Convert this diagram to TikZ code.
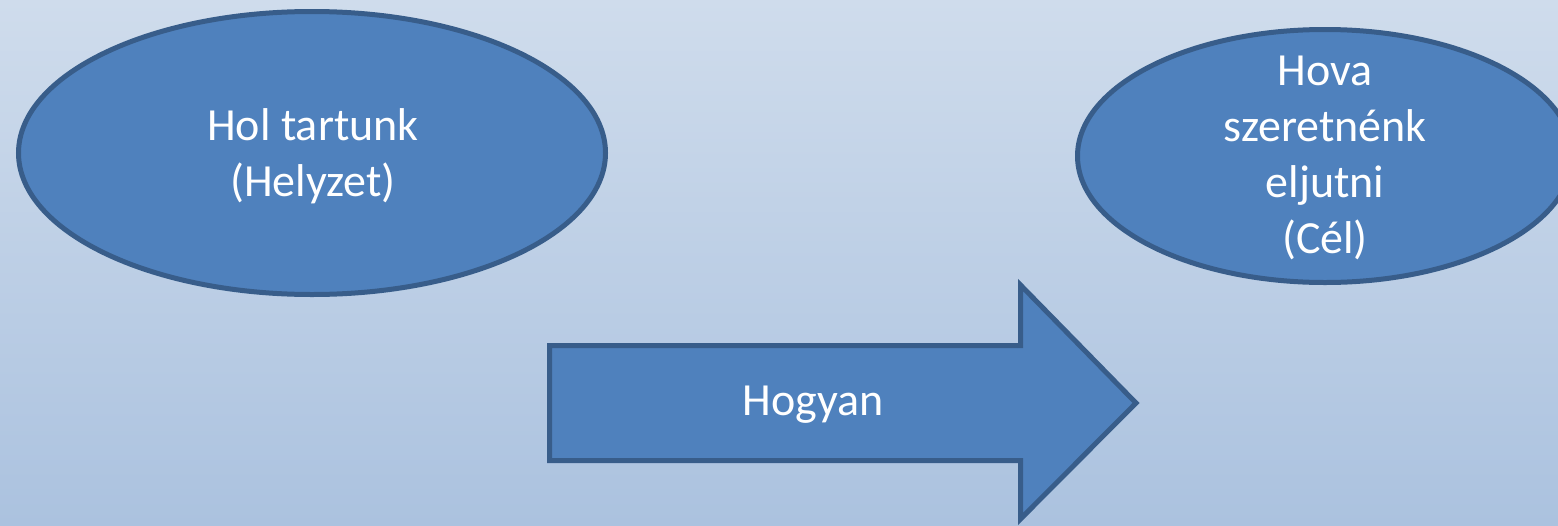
\documentclass[tikz,border=0pt]{standalone}
\usepackage{fontspec}
\setmainfont{Carlito}
\usetikzlibrary{shapes.geometric}
\definecolor{bgtop}{HTML}{CFDCEC}
\definecolor{bgbot}{HTML}{ABC2DF}
\definecolor{shapefill}{HTML}{4F81BD}
\definecolor{shapeline}{HTML}{385D8A}
\tikzset{
  blob/.style={ellipse, draw=shapeline, fill=shapefill, line width=2.5pt, inner sep=0pt},
  shapestyle/.style={draw=shapeline, fill=shapefill, line width=2.5pt, line join=miter},
  txt/.style={text=white, align=center, inner sep=0pt, font=\fontsize{23}{28}\selectfont}
}
\begin{document}
\begin{tikzpicture}[x=0.5pt, y=-0.5pt]
\useasboundingbox (0,0) rectangle (1558,525);
\shade[top color=bgtop, bottom color=bgbot] (0,0) rectangle (1558,525);
\clip (0,0) rectangle (1558,525);
% left ellipse
\node[blob, minimum width=293.5pt, minimum height=141.5pt] (here) at (312,153) {};
\node[txt] (heretext) at (313,156) {Hol tartunk\\(Helyzet)};
% right ellipse
\node[blob, minimum width=247.5pt, minimum height=126.5pt] (goal) at (1325,156) {};
\node[txt] (goaltext) at (1325,158) {Hova\\szeretnénk\\eljutni\\(Cél)};
% arrow
\draw[shapestyle] (549.5,345.5) -- (1020.5,345.5) -- (1020.5,285) -- (1136,403)
  -- (1020.5,519) -- (1020.5,460.5) -- (549.5,460.5) -- cycle;
\node[txt] (how) at (813,405) {Hogyan};
\end{tikzpicture}
\end{document}
